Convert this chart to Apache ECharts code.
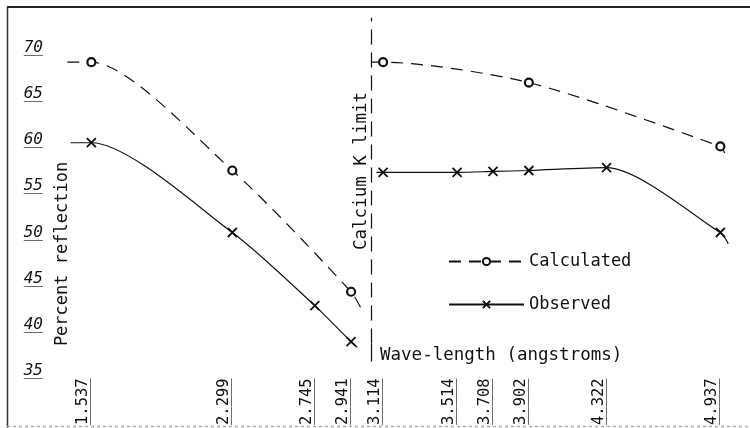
<!DOCTYPE html>
<html><head><meta charset="utf-8">
<script src="https://cdn.jsdelivr.net/npm/echarts@6/dist/echarts.min.js"></script>
<style>html,body{margin:0;padding:0;background:#fff}#c{width:750px;height:428px}</style>
</head><body><div id="c"></div>
<script>
// Tick labels
const xTickValues = [1.537, 2.299, 2.745, 2.941, 3.114, 3.514, 3.708, 3.902, 4.322, 4.937];
const yTickValues = [35, 40, 45, 50, 55, 60, 65, 70];

// Calculated (dashed, circles)
const calcLeftX  = [1.537, 2.299, 2.941];
const calcLeftY  = [68.4, 56.7, 43.6];
const calcRightX = [3.114, 3.902, 4.937];
const calcRightY = [68.4, 66.2, 59.3];
// line ends beyond the points
const calcLeftStart = [1.407, 68.4], calcLeftEnd = [3.00, 41.6];
const calcRightStart = [3.05, 68.4], calcRightEnd = [4.96, 58.6];

// Observed (solid, crosses)
const obsLeftX  = [1.537, 2.299, 2.745, 2.941];
const obsLeftY  = [59.7, 50.0, 42.1, 38.2];
const obsRightX = [3.114, 3.514, 3.708, 3.902, 4.322, 4.937];
const obsRightY = [56.5, 56.5, 56.6, 56.7, 57.0, 50.0];
const obsLeftStart = [1.424, 59.7], obsLeftEnd = [2.975, 37.6];
const obsRightStart = [3.078, 56.5], obsRightEnd = [4.98, 48.8];

// Calcium K limit
const kLimit = 3.05;
const kLineBottom = 36.05, kLineSolidTop = 38.0, kLineTop = 73.2;

const FONT = 'DejaVu Sans Mono';
const INK = '#111';
const xLabel = v => { const t = xTickValues.find(t => Math.abs(t - v) < 1e-6); return t === undefined ? '' : t.toFixed(3); };
const yLabel = v => yTickValues.includes(v) ? String(v) : '';
const bar = s => '_'.repeat(s.length);

function build(xs, ys, start, end) {
  const d = [{ value: start, symbol: 'none' }];
  xs.forEach((x, i) => d.push([x, ys[i]]));
  d.push({ value: end, symbol: 'none' });
  return d;
}

const crossPath = 'path://M0,0L10,10M10,0L0,10';
const calcStyle = {
  type: 'line', name: 'Calculated', smooth: 0.25,
  symbol: 'circle', symbolSize: 8,
  itemStyle: { color: '#fff', borderColor: INK, borderWidth: 2.2 },
  lineStyle: { color: INK, width: 1.2, type: [12, 8] },
  emphasis: { disabled: true }, z: 3
};
const obsStyle = {
  type: 'line', name: 'Observed', smooth: 0.25,
  symbol: crossPath, symbolSize: 9,
  itemStyle: { color: INK, borderColor: INK, borderWidth: 1.8 },
  lineStyle: { color: INK, width: 1.2, type: 'solid' },
  emphasis: { disabled: true }, z: 3
};

const xBase = {
  type: 'value', min: 1.4, max: 5.0, position: 'bottom',
  axisLine: { show: false }, axisTick: { show: false }, splitLine: { show: false }
};
const xLab = { customValues: xTickValues, rotate: 90, margin: 7, verticalAlign: 'bottom',
  fontFamily: FONT, fontSize: 15.5, color: INK };
const yBase = {
  type: 'value', min: 35, max: 73.5, interval: 5, position: 'left',
  axisLine: { show: false }, axisTick: { show: false }, splitLine: { show: false }
};
const yLab = { showMaxLabel: false, margin: 23, fontFamily: FONT, fontSize: 16, fontStyle: 'italic', color: INK };

const chart = echarts.init(document.getElementById('c'), null, { renderer: 'canvas' });
chart.setOption({
  backgroundColor: '#fff',
  animation: false,
  grid: { left: 66, right: 18, top: 15, bottom: 56 },
  xAxis: [
    Object.assign({}, xBase, { axisLabel: Object.assign({}, xLab, { formatter: v => xLabel(v) }) }),
    Object.assign({}, xBase, { axisLabel: Object.assign({}, xLab, { formatter: v => bar(xLabel(v)) }) })
  ],
  yAxis: [
    Object.assign({}, yBase, { axisLabel: Object.assign({}, yLab, { formatter: v => yLabel(v) }) }),
    Object.assign({}, yBase, { axisLabel: Object.assign({}, yLab, { formatter: v => bar(yLabel(v)) }) })
  ],
  legend: {
    orient: 'vertical', left: 443, top: 248,
    itemWidth: 75, itemHeight: 9, itemGap: 26,
    data: ['Calculated', 'Observed'],
    textStyle: { fontFamily: FONT, fontSize: 17, color: INK },
    selectedMode: false
  },
  series: [
    Object.assign({}, calcStyle, {
      data: build(calcLeftX, calcLeftY, calcLeftStart, calcLeftEnd),
      markLine: {
        silent: true, symbol: 'none', label: { show: false },
        data: [
          [{ coord: [kLimit, kLineSolidTop], lineStyle: { type: [15, 8] } }, { coord: [kLimit, kLineTop] }],
          [{ coord: [kLimit, kLineBottom], lineStyle: { type: 'solid' } }, { coord: [kLimit, kLineSolidTop] }]
        ],
        lineStyle: { color: INK, width: 1.2 }
      }
    }),
    Object.assign({}, calcStyle, { data: build(calcRightX, calcRightY, calcRightStart, calcRightEnd) }),
    Object.assign({}, obsStyle, { data: build(obsLeftX, obsLeftY, obsLeftStart, obsLeftEnd) }),
    Object.assign({}, obsStyle, { data: build(obsRightX, obsRightY, obsRightStart, obsRightEnd) })
  ],
  graphic: [
    { type: 'line', shape: { x1: 7, y1: 7, x2: 750, y2: 7 }, style: { stroke: '#222', lineWidth: 2 } },
    { type: 'line', shape: { x1: 7.5, y1: 7, x2: 7.5, y2: 428 }, style: { stroke: '#333', lineWidth: 1.5 } },
    { type: 'line', shape: { x1: 7, y1: 426.5, x2: 750, y2: 426.5 }, style: { stroke: '#aaa', lineWidth: 1.5, lineDash: [3, 3] } },
    { type: 'text', x: 63, y: 254, rotation: Math.PI / 2,
      style: { text: 'Percent reflection', font: '17px "DejaVu Sans Mono"', fill: INK, align: 'center', verticalAlign: 'middle' } },
    { type: 'text', x: 361, y: 171, rotation: Math.PI / 2,
      style: { text: 'Calcium K limit', font: '17.5px "DejaVu Sans Mono"', fill: INK, align: 'center', verticalAlign: 'middle' } },
    { type: 'text', x: 380, y: 355,
      style: { text: 'Wave-length (angstroms)', font: '17.5px "DejaVu Sans Mono"', fill: INK, align: 'left', verticalAlign: 'middle' } }
  ]
});
</script>
</body></html>
